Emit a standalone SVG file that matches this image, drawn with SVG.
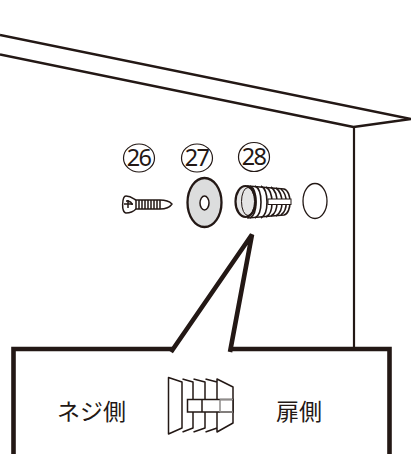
<svg xmlns="http://www.w3.org/2000/svg" width="411" height="454" viewBox="0 0 411 454">
<style>
.l{fill:none;stroke:#231815;stroke-linejoin:round}
.t{font-family:"Noto Sans CJK JP","Noto Sans",sans-serif;fill:#231815;font-size:23px}
.n{font-family:"Noto Sans","Liberation Sans",sans-serif;font-size:23.500px;fill:#231815;text-anchor:middle;letter-spacing:-1.800px}
</style>
<rect width="411" height="454" fill="#fff"/>
<g id="cabinet">
<path class="l" stroke-width="2.300" d="M0 35L411 119L353.500 127L0 54.500"/>
<path class="l" stroke-width="2.200" d="M354 127V349"/>
</g>
<g id="n26">
<ellipse class="l" cx="139" cy="158" rx="15.500" ry="14" stroke-width="1.200"/>
<text class="n" x="138.500" y="166">26</text>
<path class="l" stroke-width="1.500" d="M126 196C131 196 134 199 136 200L160 200C166 200 170 202 172 204C170 207 166 209 160 209L136 209C134 211 130 213 126 213C121 213 122 196 126 196Z"/>
<path class="l" stroke-width="1.500" d="M124 204H133M128 200V208M126 201C130 201 132 203 132 205M136 200V209M139 200V209M142 200V209M145 200V209M148 200V209M151 200V209M154 200V209M157 200V209M160 200V209"/>
</g>
<g id="n27">
<ellipse class="l" cx="197" cy="158" rx="15.500" ry="14" stroke-width="1.200"/>
<text class="n" x="196.500" y="166">27</text>
<ellipse cx="204.500" cy="202.500" rx="17" ry="24.500" fill="#dcdddd" stroke="#231815" stroke-width="2.300"/>
<ellipse cx="204.500" cy="203" rx="4.500" ry="7" fill="#fff" stroke="#231815" stroke-width="1.500"/>
</g>
<g id="n28">
<ellipse class="l" cx="254" cy="157" rx="15.500" ry="14.500" stroke-width="1.200"/>
<text class="n" x="253.500" y="165">28</text>
<path d="M248 186L284 189C292 191 292 213 284 215L248 218Z" fill="#fff" stroke="#231815" stroke-width="1.600"/>
<ellipse cx="245.500" cy="201.500" rx="10" ry="15.500" fill="#e5e5e5" stroke="#231815" stroke-width="2.200"/>
<path class="l" stroke-width="1.600" d="M250 186C258 190 258 214 250 218M255 186C263 190 263 214 255 218M261 186C269 190 269 214 261 218M266 187C274 192 274 213 266 217M271 187C279 193 279 212 271 216M276 188C284 194 284 211 276 216M281 189C288 195 288 210 281 215"/>
<ellipse class="l" cx="248" cy="201.500" rx="6.500" ry="14" stroke-width="1"/>
<rect x="268" y="199" width="23" height="5.500" fill="#fff" stroke="#231815" stroke-width="1"/>
</g>
<g id="hole">
<ellipse class="l" cx="315" cy="201" rx="12" ry="17.500" stroke-width="1.300"/>
</g>
<g id="callout">
<path d="M171 352L252.500 234L230 352Z" fill="#fff" stroke="none"/>
<path d="M13.500 454V349H172M230 349H389.500V454" fill="none" stroke="#231815" stroke-width="4.600"/>
<path d="M171 352L252 234.500L230 352" fill="none" stroke="#231815" stroke-width="4.600" stroke-linejoin="miter"/>
</g>
<g id="label-screw"><text class="t" x="57" y="420">ネジ側</text></g>
<g id="label-door"><text class="t" x="276" y="420">扉側</text></g>
<g id="door-icon">
<path class="l" stroke-width="1.500" d="M168.500 377.500L182 382V428L168.500 434ZM182.500 379L193 382V428L182.500 432M193.500 379L205 382V428L193.500 432M205.500 379L217 382V428L205.500 432M217 379L233 387V423L217 432Z"/>
<path d="M187.500 399.500H233V412H187.500Z" fill="#fff" stroke="#231815" stroke-width="1.500"/>
<path d="M202 399.500V412" stroke="#231815" stroke-width="1.500"/>
<path d="M220 399.500V412M220 399.500H233M220 412H233" stroke="#8e8c8a" stroke-width="1.500"/>
</g>
</svg>
